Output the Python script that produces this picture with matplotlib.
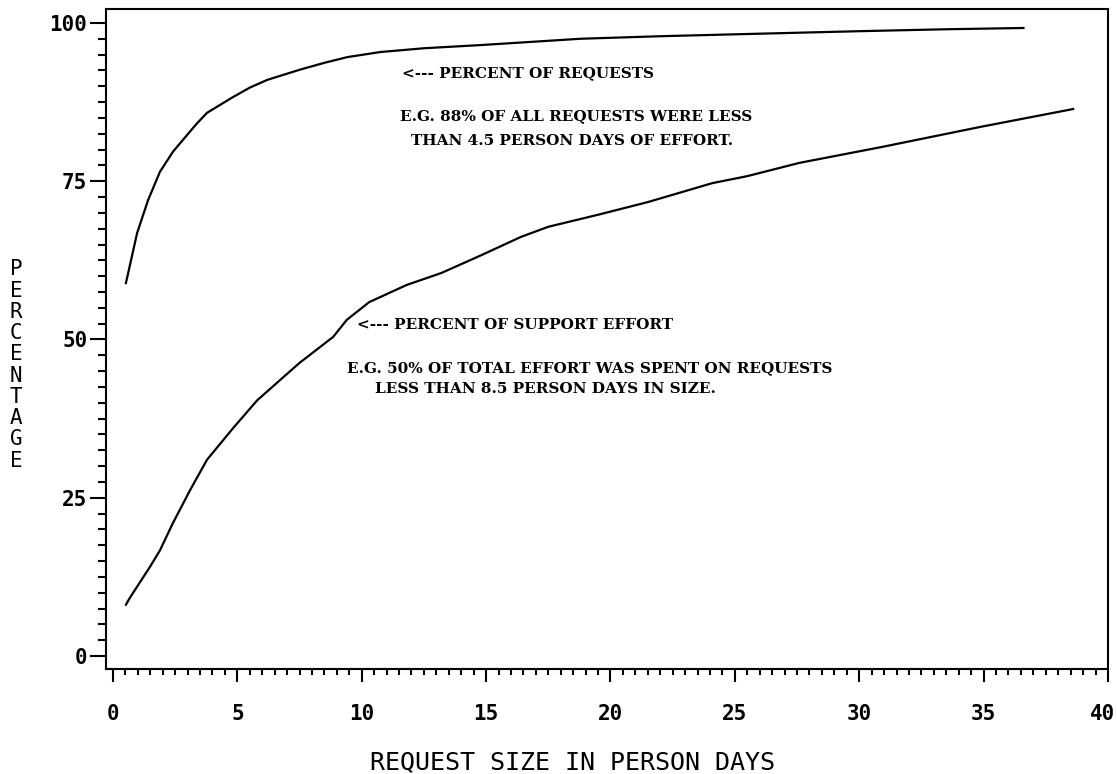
import matplotlib
matplotlib.use("Agg")
import matplotlib.pyplot as plt
from matplotlib.ticker import MultipleLocator

# Percent of requests (cumulative) vs request size in person days
req_x = [0.52, 0.97, 1.41, 1.89, 2.42, 2.98, 3.37, 3.78, 4.83, 5.51, 6.2,
         7.5, 8.5, 9.42, 10.74, 12.5, 14.77, 18.8, 22.0, 26.0, 30.06, 33.5,
         36.6]
req_y = [58.9, 66.8, 72.0, 76.5, 79.7, 82.3, 84.1, 85.8, 88.3, 89.8, 91.0,
         92.6, 93.7, 94.6, 95.4, 96.0, 96.5, 97.5, 97.9, 98.3, 98.7, 99.0,
         99.2]

# Percent of support effort (cumulative)
eff_x = [0.52, 0.68, 1.49, 1.89, 2.41, 3.1, 3.78, 4.83, 5.8, 6.72, 7.5,
         8.85, 9.4, 10.3, 11.8, 13.2, 14.8, 16.4, 17.5, 19.5, 21.5, 24.1,
         25.5, 27.6, 30.9, 34.9, 38.6]
eff_y = [8.1, 9.2, 14.1, 16.7, 21.0, 26.2, 31.0, 36.0, 40.4, 43.6, 46.3,
         50.4, 53.1, 55.9, 58.6, 60.5, 63.3, 66.2, 67.8, 69.7, 71.7, 74.7,
         75.8, 77.9, 80.4, 83.6, 86.4]

x_ticks = [0, 5, 10, 15, 20, 25, 30, 35, 40]
x_labels = ["0", "5", "10", "15", "20", "25", "30", "35", "40"]
y_ticks = [0, 25, 50, 75, 100]
y_labels = ["0", "25", "50", "75", "100"]

fig = plt.figure(figsize=(11.17, 7.74), dpi=100)
ax = fig.add_axes([106/1117, 1 - 669/774, (1108 - 106)/1117, (669 - 9)/774])

ax.plot(req_x, req_y, color="black", lw=1.6, solid_joinstyle="round")
ax.plot(eff_x, eff_y, color="black", lw=1.6, solid_joinstyle="round")

ax.set_xlim(-0.28, 40)
ax.set_ylim(-2.05, 102.2)
ax.set_xticks(x_ticks)
ax.set_yticks(y_ticks)
ax.xaxis.set_minor_locator(MultipleLocator(0.5))
ax.yaxis.set_minor_locator(MultipleLocator(2.5))

mono = "DejaVu Sans Mono"
lab_kw = dict(family=mono, fontsize=15, fontweight="bold")
# last x label is placed separately so it is not clipped at the figure edge
ax.set_xticklabels(x_labels[:-1] + [""], **lab_kw)
ax.annotate(x_labels[-1], xy=(x_ticks[-1], 0), xycoords=("data", "axes fraction"),
            xytext=(-4, -25), textcoords="offset points", ha="center", va="top",
            **lab_kw)
ax.set_yticklabels(y_labels, **lab_kw)
ax.tick_params(axis="x", which="major", length=9, width=1.5, direction="out", pad=16)
ax.tick_params(axis="x", which="minor", length=4.5, width=1.5, direction="out")
ax.tick_params(axis="y", which="major", length=11.5, width=1.5, direction="out", pad=2)
ax.tick_params(axis="y", which="minor", length=5.5, width=1.5, direction="out")
for s in ax.spines.values():
    s.set_linewidth(1.5)

serif = "DejaVu Serif"
tkw = dict(family=serif, fontweight="bold", fontsize=11, color="black",
           ha="left", va="center")
ax.text(11.6, 92.1, "<--- PERCENT OF REQUESTS", **tkw)
ax.text(11.55, 85.2, "E.G. 88% OF ALL REQUESTS WERE LESS", **tkw)
ax.text(12.0, 81.4, "THAN 4.5 PERSON DAYS OF EFFORT.", **tkw)
ax.text(9.8, 52.3, "<--- PERCENT OF SUPPORT EFFORT", **tkw)
ax.text(9.4, 45.5, "E.G. 50% OF TOTAL EFFORT WAS SPENT ON REQUESTS", **tkw)
ax.text(10.55, 42.1, "LESS THAN 8.5 PERSON DAYS IN SIZE.", **tkw)

fig.text(573/1117, 1 - 762/774, "REQUEST SIZE IN PERSON DAYS",
         family=mono, fontsize=18, ha="center", va="center")
fig.text(16/1117, 1 - 365/774, "\n".join("PERCENTAGE"),
         family=mono, fontsize=15, ha="center", va="center", linespacing=1.08)

fig.savefig("out.png", dpi=100, facecolor="white")
